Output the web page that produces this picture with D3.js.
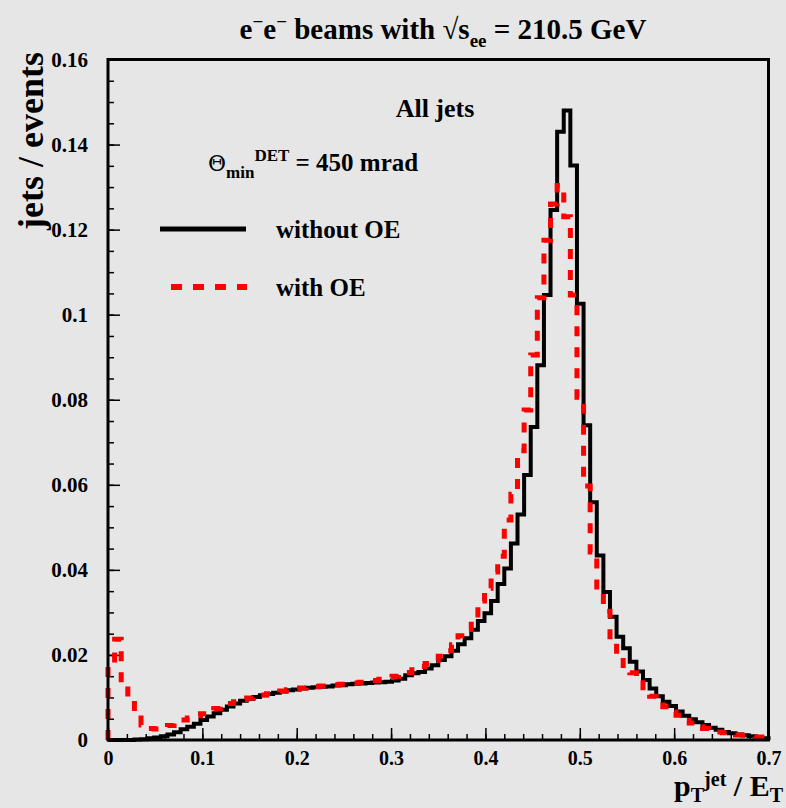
<!DOCTYPE html>
<html>
<head>
<meta charset="UTF-8">
<style>
  body { margin: 0; background: #e6e6e6; }
  svg { display: block; }
  text { font-family: "Liberation Serif", "Times New Roman", serif; font-weight: bold; fill: #000; }
</style>
</head>
<body>
<script src="https://d3js.org/d3.v7.min.js"></script>
<script>

// histogram of pT(jet)/ET, 100 bins from 0 to 0.7
var binWidth = 0.007;

var withoutOE = [
  0, 0, 0, 0, 0.0001, 0.0002, 0.0004, 0.0006, 0.0009, 0.0013,
  0.0018, 0.0025, 0.0031, 0.0038, 0.0047, 0.0055, 0.0063, 0.0071, 0.0079, 0.0086,
  0.0092, 0.0097, 0.0101, 0.0105, 0.0108, 0.0111, 0.0114, 0.0117, 0.0119, 0.0121,
  0.0123, 0.0124, 0.0125, 0.0126, 0.0128, 0.0129, 0.0131, 0.0132, 0.0133, 0.0134,
  0.0135, 0.0136, 0.0137, 0.0140, 0.0144, 0.0152, 0.0157, 0.0160, 0.0168, 0.0176,
  0.0188, 0.0197, 0.0210, 0.0225, 0.0239, 0.0259, 0.0280, 0.0298, 0.0327, 0.0367,
  0.0403, 0.0462, 0.0530, 0.0623, 0.0736, 0.0881, 0.1046, 0.1246, 0.1430, 0.1480,
  0.1351, 0.1026, 0.0740, 0.0559, 0.0434, 0.0348, 0.0290, 0.0243, 0.0216, 0.0184,
  0.0161, 0.0141, 0.0121, 0.0103, 0.0090, 0.0080, 0.0067, 0.0057, 0.0049, 0.0042,
  0.0035, 0.0029, 0.0024, 0.0019, 0.0016, 0.0013, 0.0011, 0.0009, 0.0006, 0.0004
];

var withOE = [
  0.0175, 0.0237, 0.0130, 0.0092, 0.0058, 0.0035, 0.0027, 0.0026, 0.0028, 0.0034,
  0.0042, 0.0047, 0.0052, 0.0057, 0.0062, 0.0068, 0.0074, 0.0080, 0.0086, 0.0090,
  0.0095, 0.0099, 0.0103, 0.0106, 0.0109, 0.0112, 0.0115, 0.0118, 0.0120, 0.0122,
  0.0124, 0.0126, 0.0127, 0.0129, 0.0130, 0.0131, 0.0133, 0.0134, 0.0136, 0.0138,
  0.0140, 0.0143, 0.0147, 0.0150, 0.0153, 0.0159, 0.0165, 0.0173, 0.0180, 0.0187,
  0.0197, 0.0210, 0.0224, 0.0245, 0.0260, 0.0294, 0.0327, 0.0357, 0.0395, 0.0432,
  0.0517, 0.0578, 0.0680, 0.0776, 0.0905, 0.1040, 0.1175, 0.1260, 0.1304, 0.1230,
  0.1046, 0.0806, 0.0597, 0.0442, 0.0352, 0.0303, 0.0235, 0.0200, 0.0168, 0.0158,
  0.0141, 0.0113, 0.0103, 0.0090, 0.0078, 0.0066, 0.0058, 0.0046, 0.0040, 0.0031,
  0.0027, 0.0021, 0.0019, 0.0017, 0.0013, 0.0012, 0.0011, 0.0008, 0.0007, 0.0006
];

var xTicks = [0, 0.1, 0.2, 0.3, 0.4, 0.5, 0.6, 0.7];
var yTicks = [0, 0.02, 0.04, 0.06, 0.08, 0.1, 0.12, 0.14, 0.16];
var legendLabels = ["without OE", "with OE"];

var W = 786, H = 808;
var plot = {left: 108, right: 768.5, top: 59.5, bottom: 740};

var svg = d3.select("body").append("svg")
  .attr("width", W)
  .attr("height", H);

svg.append("rect").attr("width", W).attr("height", H).attr("fill", "#e6e6e6");

var x = d3.scaleLinear().domain([0, 0.7]).range([plot.left, plot.right]);
var y = d3.scaleLinear().domain([0, 0.16]).range([plot.bottom, plot.top]);

var fmt = function(d) { return d === 0 ? "0" : String(+d.toFixed(2)); };

// x axis: major + minor ticks pointing inward
var xMinor = d3.range(0, 0.7001, 0.02);
svg.append("g")
  .attr("transform", "translate(0," + plot.bottom + ")")
  .call(d3.axisBottom(x).tickValues(xMinor).tickSize(-6).tickFormat(""))
  .call(function(g) { g.select(".domain").remove(); })
  .selectAll("line").attr("stroke-width", 1.5);

svg.append("g")
  .attr("transform", "translate(0," + plot.bottom + ")")
  .call(d3.axisBottom(x).tickValues(xTicks).tickSize(-12).tickPadding(11).tickFormat(fmt))
  .call(function(g) { g.select(".domain").remove(); })
  .call(function(g) {
    g.selectAll("line").attr("stroke-width", 1.5);
    g.selectAll("text").attr("font-size", 20).attr("font-family", null);
  });

// y axis
var yMinor = d3.range(0, 0.1601, 0.005);
svg.append("g")
  .attr("transform", "translate(" + plot.left + ",0)")
  .call(d3.axisLeft(y).tickValues(yMinor).tickSize(-6).tickFormat(""))
  .call(function(g) { g.select(".domain").remove(); })
  .selectAll("line").attr("stroke-width", 1.5);

svg.append("g")
  .attr("transform", "translate(" + plot.left + ",0)")
  .call(d3.axisLeft(y).tickValues(yTicks).tickSize(-12).tickPadding(20).tickFormat(fmt))
  .call(function(g) { g.select(".domain").remove(); })
  .call(function(g) {
    g.selectAll("line").attr("stroke-width", 1.5);
    g.selectAll("text").attr("font-size", 21).attr("font-family", null);
  });

// step outlines
function stepPoints(vals) {
  var pts = [[0, 0]];
  vals.forEach(function(v, i) { pts.push([i * binWidth, v]); });
  pts.push([0.7, 0]);
  return pts;
}

var line = d3.line()
  .x(function(d) { return x(d[0]); })
  .y(function(d) { return y(d[1]); })
  .curve(d3.curveStepAfter);

svg.append("path")
  .datum(stepPoints(withoutOE))
  .attr("d", line)
  .attr("fill", "none")
  .attr("stroke", "#000")
  .attr("stroke-width", 4);

svg.append("path")
  .datum(stepPoints(withOE))
  .attr("d", line)
  .attr("fill", "none")
  .attr("stroke", "#ff0000")
  .attr("stroke-width", 5)
  .attr("stroke-dasharray", "10,11");

// frame
svg.append("rect")
  .attr("x", plot.left).attr("y", plot.top)
  .attr("width", plot.right - plot.left)
  .attr("height", plot.bottom - plot.top)
  .attr("fill", "none")
  .attr("stroke", "#000")
  .attr("stroke-width", 3);

// title
var title = svg.append("text")
  .attr("x", 443).attr("y", 39)
  .attr("text-anchor", "middle")
  .attr("font-size", 29);
title.append("tspan").text("e");
title.append("tspan").attr("dy", -11).attr("font-size", 19).text("\u2212");
title.append("tspan").attr("dy", 11).text("e");
title.append("tspan").attr("dy", -11).attr("font-size", 19).text("\u2212");
title.append("tspan").attr("dy", 11).text(" beams with \u221As");
title.append("tspan").attr("dy", 8).attr("font-size", 19).text("ee");
title.append("tspan").attr("dy", -8).text(" = 210.5 GeV");

// axis titles
svg.append("text")
  .attr("transform", "translate(43,52) rotate(-90)")
  .attr("text-anchor", "end")
  .attr("font-size", 36)
  .text("jets / events");

var xt = svg.append("text")
  .attr("x", 783).attr("y", 796)
  .attr("text-anchor", "end")
  .attr("font-size", 30);
xt.append("tspan").text("p");
xt.append("tspan").attr("dy", 6).attr("font-size", 20).text("T");
xt.append("tspan").attr("dy", -16).attr("font-size", 20).text("jet");
xt.append("tspan").attr("dy", 10).text(" / E");
xt.append("tspan").attr("dy", 6).attr("font-size", 20).text("T");

// annotations
svg.append("text")
  .attr("x", 435).attr("y", 117)
  .attr("text-anchor", "middle")
  .attr("font-size", 26)
  .text("All jets");

var th = svg.append("text")
  .attr("x", 208).attr("y", 171)
  .attr("font-size", 25);
th.append("tspan").attr("font-weight", "normal").attr("font-family", "DejaVu Serif").attr("font-size", 22).text("\u0398");
th.append("tspan").attr("dy", 7).attr("font-size", 17).text("min");
th.append("tspan").attr("dy", -17).attr("font-size", 17).text("DET");
th.append("tspan").attr("dy", 10).text(" = 450 mrad");

// legend
svg.append("line")
  .attr("x1", 160).attr("x2", 246).attr("y1", 229).attr("y2", 229)
  .attr("stroke", "#000").attr("stroke-width", 5);
svg.append("line")
  .attr("x1", 171).attr("x2", 247).attr("y1", 287).attr("y2", 287)
  .attr("stroke", "#ff0000").attr("stroke-width", 6)
  .attr("stroke-dasharray", "11,11");

svg.selectAll(".leg")
  .data(legendLabels)
  .enter().append("text")
  .attr("class", "leg")
  .attr("x", 276)
  .attr("y", function(d, i) { return 238 + i * 58; })
  .attr("font-size", 25)
  .text(function(d) { return d; });

</script>
</body>
</html>
